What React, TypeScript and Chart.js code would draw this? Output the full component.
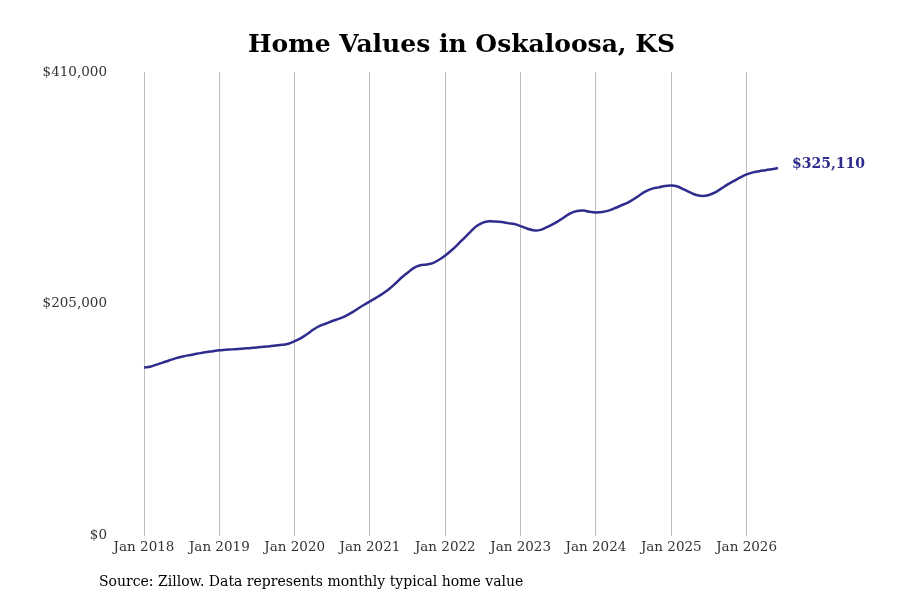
import React, { useEffect, useRef } from "react";
import { Chart, registerables, Plugin } from "chart.js";

Chart.register(...registerables);

const MONTH_NAMES = ["Jan", "Feb", "Mar", "Apr", "May", "Jun", "Jul", "Aug", "Sep", "Oct", "Nov", "Dec"];
const START_YEAR = 2018;

// monthly typical home value, Jan 2018 .. Jun 2026
const homeValues = [
  148700, 149500, 151300, 153100, 155000, 156800, 158300, 159500, 160500, 161500, 162400, 163200,
  164000, 164400, 164800, 165200, 165600, 166000, 166500, 167100, 167600, 168200, 168800, 169800,
  172000, 174800, 178400, 182400, 185500, 187700, 189900, 191700, 194000, 197000, 200500, 204000,
  207300, 210500, 213900, 217900, 222800, 228100, 232500, 236900, 239200, 239800, 241000, 244000,
  247800, 252400, 257600, 263200, 268700, 273800, 276900, 278000, 277800, 277300, 276400, 275600,
  273800, 271600, 270200, 270200, 272400, 275100, 278200, 281800, 285300, 287100, 287500, 286400,
  285900, 286300, 287500, 289600, 292000, 294400, 297500, 301300, 304600, 306900, 308000, 309300,
  309700, 308800, 306200, 303500, 301300, 300400, 301300, 303500, 307100, 310600, 313700, 316800,
  319500, 321300, 322300, 323200, 324100, 325110,
];

const months = homeValues.map(
  (_, i) => `${MONTH_NAMES[i % 12]} ${START_YEAR + Math.floor(i / 12)}`
);

const yTicks = [0, 205000, 410000];

const TITLE = "Home Values in Oskaloosa, KS";
const SOURCE = "Source: Zillow. Data represents monthly typical home value";
const LINE_COLOR = "#2e2c8c";
const FONT = "'DejaVu Serif', serif";

const fmt = (v: number) => "$" + v.toLocaleString("en-US");

const textPlugin: Plugin<"line"> = {
  id: "textPlugin",
  afterDraw(chart) {
    const { ctx } = chart;
    ctx.save();
    ctx.fillStyle = "#000";
    ctx.textBaseline = "middle";

    ctx.font = `bold 25px ${FONT}`;
    ctx.textAlign = "center";
    ctx.fillText(TITLE, 461.5, 45);

    ctx.font = `14px ${FONT}`;
    ctx.textAlign = "left";
    ctx.fillText(SOURCE, 99, 582);

    // end-of-line value label
    const meta = chart.getDatasetMeta(0);
    const last = meta.data[meta.data.length - 1];
    if (last) {
      ctx.font = `bold 14px ${FONT}`;
      ctx.fillStyle = LINE_COLOR;
      ctx.fillText(fmt(homeValues[homeValues.length - 1]), last.x + 14, last.y - 4);
    }
    ctx.restore();
  },
};

const App: React.FC = () => {
  const canvasRef = useRef<HTMLCanvasElement | null>(null);

  useEffect(() => {
    document.body.style.margin = "0";
    if (!canvasRef.current) return;
    const ctx = canvasRef.current.getContext("2d");
    if (!ctx) return;

    const chart = new Chart(ctx, {
      type: "line",
      data: {
        labels: months,
        datasets: [
          {
            data: homeValues,
            borderColor: LINE_COLOR,
            borderWidth: 2.5,
            tension: 0.4,
            pointRadius: 0,
            fill: false,
          },
        ],
      },
      options: {
        responsive: false,
        animation: false,
        layout: { padding: { top: 72, left: 0, right: 122, bottom: 40 } },
        plugins: {
          legend: { display: false },
          title: { display: false },
          tooltip: { enabled: false },
        },
        scales: {
          x: {
            type: "category",
            offset: false,
            border: { display: false },
            grid: { color: "#bdbdbd", lineWidth: 1, drawTicks: false },
            ticks: {
              autoSkip: false,
              maxRotation: 0,
              padding: 4,
              color: "#333",
              font: { family: FONT, size: 13.5 },
              callback: (_v, i) => (i % 12 === 0 ? months[i] : null),
            },
          },
          y: {
            min: 0,
            max: 410000,
            border: { display: false },
            grid: { display: false, drawTicks: false },
            afterFit: (scale) => {
              scale.width = 144;
            },
            afterBuildTicks: (scale) => {
              scale.ticks = yTicks.map((v) => ({ value: v }));
            },
            ticks: {
              padding: 37,
              color: "#333",
              font: { family: FONT, size: 13.5 },
              callback: (v) => fmt(Number(v)),
            },
          },
        },
      },
      plugins: [textPlugin],
    });

    return () => {
      chart.destroy();
    };
  }, []);

  return <canvas ref={canvasRef} width={900} height={600} />;
};

export default App;
